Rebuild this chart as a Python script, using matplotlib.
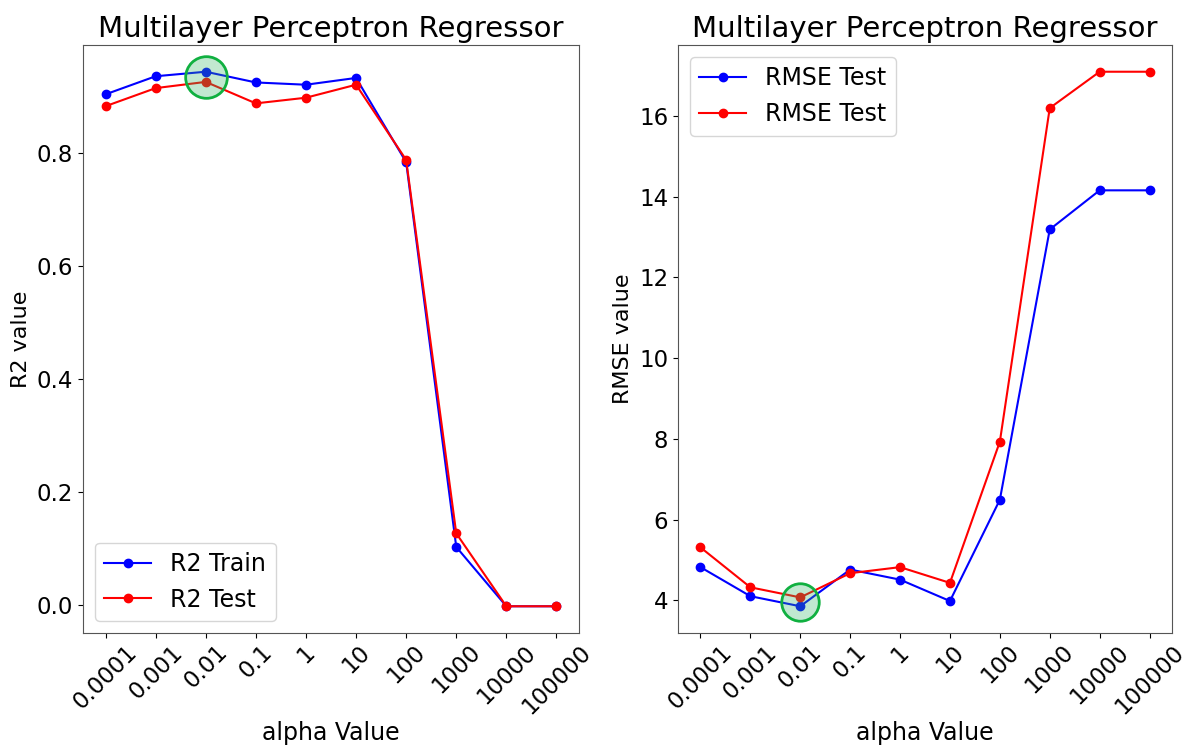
import matplotlib
matplotlib.use("Agg")
import matplotlib.pyplot as plt

alpha_labels = ["0.0001", "0.001", "0.01", "0.1", "1", "10", "100", "1000", "10000", "100000"]

r2_train = [0.904, 0.936, 0.944, 0.925, 0.921, 0.933, 0.784, 0.103, -0.002, -0.002]
r2_test = [0.883, 0.915, 0.926, 0.888, 0.898, 0.921, 0.788, 0.127, -0.002, -0.002]

rmse_train = [4.82, 4.10, 3.85, 4.76, 4.51, 3.98, 6.49, 13.19, 14.16, 14.16]
rmse_test = [5.31, 4.32, 4.07, 4.67, 4.82, 4.43, 7.93, 16.20, 17.10, 17.10]

best_idx = 2  # alpha = 0.01

x = list(range(len(alpha_labels)))

W, H = 1192, 749
fig = plt.figure(figsize=(W / 100, H / 100), dpi=100)
ax1 = fig.add_axes([83 / W, 1 - 633 / H, 496 / W, 588 / H])
ax2 = fig.add_axes([678 / W, 1 - 633 / H, 494 / W, 588 / H])

title_fs = 21
tick_fs = 16.5
ylabel_fs = 16
xlabel_fs = 17
legend_fs = 17

highlight_face = (0.2, 0.7, 0.4, 0.3)
highlight_edge = "#10b040"

# R2 panel
ax1.plot(x, r2_train, "-o", color="blue", lw=1.5, ms=6, label="R2 Train")
ax1.plot(x, r2_test, "-o", color="red", lw=1.5, ms=6, label="R2 Test")
ax1.plot(x[best_idx], (r2_train[best_idx] + r2_test[best_idx]) / 2, "o", ms=30,
         markerfacecolor=highlight_face, markeredgecolor=highlight_edge, markeredgewidth=2)
ax1.set_title("Multilayer Perceptron Regressor", fontsize=title_fs)
ax1.set_xlabel("alpha Value", fontsize=xlabel_fs, labelpad=2)
ax1.set_ylabel("R2 value", fontsize=ylabel_fs)
ax1.legend(loc="lower left", fontsize=legend_fs)

# RMSE panel
ax2.plot(x, rmse_train, "-o", color="blue", lw=1.5, ms=6, label="RMSE Test")
ax2.plot(x, rmse_test, "-o", color="red", lw=1.5, ms=6, label="RMSE Test")
ax2.plot(x[best_idx], (rmse_train[best_idx] + rmse_test[best_idx]) / 2, "o", ms=27,
         markerfacecolor=highlight_face, markeredgecolor=highlight_edge, markeredgewidth=2)
ax2.set_title("Multilayer Perceptron Regressor", fontsize=title_fs)
ax2.set_xlabel("alpha Value", fontsize=xlabel_fs, labelpad=2)
ax2.set_ylabel("RMSE value", fontsize=ylabel_fs)
ax2.legend(loc="upper left", fontsize=legend_fs)

for ax in (ax1, ax2):
    ax.set_xticks(x)
    ax.set_xticklabels(alpha_labels, rotation=45)
    ax.tick_params(labelsize=tick_fs)
    ax.tick_params(axis="x", pad=2)
    for s in ax.spines.values():
        s.set_color("#555555")

fig.savefig("out.png", dpi=100)
